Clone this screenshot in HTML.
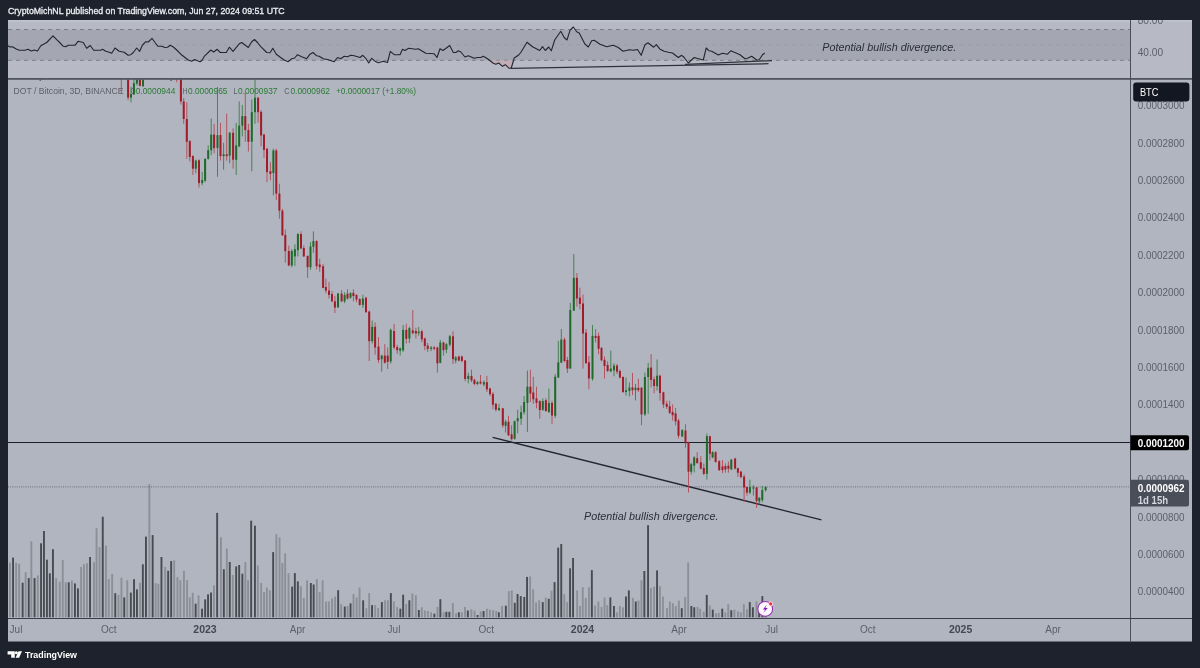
<!DOCTYPE html>
<html lang="en"><head><meta charset="utf-8"><title>DOT / Bitcoin chart</title>
<style>
html,body{margin:0;padding:0;}
body{width:1200px;height:668px;background:#1e222d;overflow:hidden;position:relative;}
.chart{position:absolute;left:0;top:0;display:block;font-family:"Liberation Sans",sans-serif;will-change:transform;}
</style></head><body>
<svg class="chart" width="1200" height="668" viewBox="0 0 1200 668">
<defs><clipPath id="main"><rect x="8" y="79.5" width="1122.5" height="538.1"/></clipPath><clipPath id="rsic"><rect x="8" y="20" width="1122.5" height="58"/></clipPath></defs>
<rect x="8" y="20" width="1184" height="621.5" fill="#b1b5bf"/>
<rect x="8" y="20" width="1184" height="58.5" fill="#b7bac4"/>
<rect x="8" y="20" width="1184" height="1.6" fill="#c0c3cc"/>
<rect x="8" y="29.5" width="1122.5" height="30.8" fill="#a4a7b1"/>
<line x1="8" y1="29.5" x2="1130.5" y2="29.5" stroke="#747781" stroke-width="0.9" stroke-dasharray="3.8 4.2"/>
<line x1="8" y1="60.3" x2="1130.5" y2="60.3" stroke="#747781" stroke-width="0.9" stroke-dasharray="3.8 4.2"/>
<line x1="8" y1="44.8" x2="1130.5" y2="44.8" stroke="#979aa4" stroke-width="0.7" stroke-dasharray="3.8 4.2"/>
<polygon points="487.5,60.3 493.3,63.3 495.8,64.2 498.7,63 502.5,66.3 505.3,64.7 509.2,68.3 511.3,68 513.5,60.3" fill="#c9a3ac" opacity="0.55"/>
<line x1="510.5" y1="68.4" x2="768.5" y2="63.7" stroke="#2f323b" stroke-width="1.3"/>
<line x1="685" y1="64.4" x2="772" y2="60.6" stroke="#2f323b" stroke-width="1.3"/>
<polyline clip-path="url(#rsic)" points="8,45.8 10,47 12.5,46.7 15.8,48.7 19.2,50.3 25,50.3 28,49.3 31.3,51 34.2,50 37.5,51 40.8,45.8 46.7,42.5 53,35.8 56.7,39.7 59.7,42.5 63.3,46.3 65.8,46.7 68.3,45.3 75,45.3 78,41.3 83.3,42.5 86.7,48.3 90.3,45.5 93.7,50.3 100.8,50.3 102.5,49.3 105.8,51.3 109.2,52.2 111.7,53.3 115,48 119.2,51.3 124.2,52.2 128,55.3 130.8,54.7 133.3,52.5 136.7,48 139.7,51.3 142.5,45 145.8,41.7 148.3,42 152,38.3 155,42.5 158,46.3 161.7,46.2 165,47.5 167.5,47.2 170.3,45.3 173.3,47 176.7,50 180.8,54.2 185,57.5 188.3,60 191.7,61.2 194.7,59.5 197.5,60.8 200,61.7 201.7,60.8 204.7,55.8 210.8,50 213.7,52 217.2,49.3 220.3,52.5 226.3,52.5 229.3,47.2 233,51.3 239.2,43.8 241.7,42.5 248.3,47.5 251.7,41.7 254.5,39.5 257.5,42.5 260.8,46.7 266.7,52.5 270,52.8 272.8,48.3 276.3,54.2 280,57 284.2,60 288.3,61.7 291.7,58.7 294.7,58 297.5,54.7 301.7,56.7 306.7,58.7 310,54.2 313,52.5 316.7,55.8 319.2,56.2 323.3,58.8 327.5,59.5 334.2,61.7 337.5,57.5 340.8,58.7 344.2,56.3 347.5,56.7 350.8,55.3 354.2,55.8 360,57.5 362.8,55.3 365.8,58.3 368.7,63 371.7,58.3 375,61.2 378.3,62.8 383.3,61.3 387.5,62.5 390.3,51.3 394.2,54.7 400,54.7 402.5,49.2 405,50.5 408.7,48.3 415.8,49.2 418.3,48.7 425.8,53.3 434.2,53.8 437,57.5 440,48.7 443,50.5 449.7,45.5 453.3,52.5 455.8,52.5 458.3,50.8 460.8,52 465,57 468.3,55.8 474.2,58.3 477.5,57.5 480.8,57.5 483.3,56.3 487.5,58.8 493.3,63.3 495.8,64.2 498.7,63 502.5,66.3 505.3,64.7 509.2,68.3 511.3,68 514.2,58 518.3,55.3 520.8,52.5 527,42.2 532.5,46.7 539.7,50.5 542.5,46.7 545.3,50.5 548.7,47 551.3,50.8 554.7,40 560.8,31.3 564.2,37.5 567,40 570,30.3 573.3,27 576.7,31.7 579.2,33 585,44.2 588.3,47 591.7,40.8 594.2,40.3 600,44.2 606.7,46.7 613.3,45.3 618.3,47.5 623,51.2 629.2,49.7 633.3,50.3 637.5,49.5 641.2,55.3 645,44.7 648,42.8 653.7,47.2 656.3,44.7 660,49.2 664.2,51.3 668.3,52.2 672.5,53 678.3,57.5 681.7,55.3 684.2,57.5 688.3,63 694.2,57.5 703.3,60 706.2,48 709.2,50.8 711.7,51.2 718.3,55 722.5,53.3 727.5,54.2 730.8,50.8 740,54.7 745,58.7 747.5,58.3 751.7,56.3 756.7,60 759.2,59.7 762.5,54.7 764.7,53" fill="none" stroke="#23262f" stroke-width="1.1" stroke-linejoin="round"/>
<text x="13.6" y="94" font-size="9.8" fill="#5d606b" textLength="109.9" lengthAdjust="spacingAndGlyphs" >DOT / Bitcoin, 3D, BINANCE</text>
<text x="130.7" y="94" font-size="9.8" fill="#5d606b" textLength="4.8" lengthAdjust="spacingAndGlyphs" >O</text>
<text x="135.7" y="94" font-size="9.8" fill="#2a7a35" textLength="39.6" lengthAdjust="spacingAndGlyphs" >0.0000944</text>
<text x="182.4" y="94" font-size="9.8" fill="#5d606b" textLength="5" lengthAdjust="spacingAndGlyphs" >H</text>
<text x="188" y="94" font-size="9.8" fill="#2a7a35" textLength="39.4" lengthAdjust="spacingAndGlyphs" >0.0000965</text>
<text x="233.6" y="94" font-size="9.8" fill="#5d606b" textLength="4" lengthAdjust="spacingAndGlyphs" >L</text>
<text x="238" y="94" font-size="9.8" fill="#2a7a35" textLength="39.4" lengthAdjust="spacingAndGlyphs" >0.0000937</text>
<text x="284.2" y="94" font-size="9.8" fill="#5d606b" textLength="5.4" lengthAdjust="spacingAndGlyphs" >C</text>
<text x="290.4" y="94" font-size="9.8" fill="#2a7a35" textLength="39.6" lengthAdjust="spacingAndGlyphs" >0.0000962</text>
<text x="336" y="94" font-size="9.8" fill="#2a7a35" textLength="80" lengthAdjust="spacingAndGlyphs" >+0.0000017 (+1.80%)</text>
<g clip-path="url(#main)">
<rect x="9" y="562.8" width="1.9" height="54.8" fill="#8c8f97"/>
<rect x="12.1" y="557.6" width="1.9" height="60" fill="#494b52"/>
<rect x="15.2" y="562.8" width="1.9" height="54.8" fill="#8c8f97"/>
<rect x="18.2" y="563.9" width="1.9" height="53.7" fill="#8c8f97"/>
<rect x="21.7" y="582.7" width="1.9" height="34.9" fill="#494b52"/>
<rect x="24.7" y="572.2" width="1.9" height="45.4" fill="#8c8f97"/>
<rect x="27.8" y="578.1" width="1.9" height="39.5" fill="#494b52"/>
<rect x="30.4" y="541.4" width="1.9" height="76.2" fill="#8c8f97"/>
<rect x="33.6" y="578.1" width="1.9" height="39.5" fill="#494b52"/>
<rect x="36.8" y="575.4" width="1.9" height="42.2" fill="#8c8f97"/>
<rect x="40.1" y="543.3" width="1.9" height="74.3" fill="#494b52"/>
<rect x="43" y="531" width="1.9" height="86.6" fill="#494b52"/>
<rect x="46" y="559.7" width="1.9" height="57.9" fill="#494b52"/>
<rect x="48.9" y="573.3" width="1.9" height="44.3" fill="#494b52"/>
<rect x="52" y="549.2" width="1.9" height="68.4" fill="#494b52"/>
<rect x="55.2" y="578.1" width="1.9" height="39.5" fill="#8c8f97"/>
<rect x="58.8" y="581.7" width="1.9" height="35.9" fill="#8c8f97"/>
<rect x="61.8" y="560" width="1.9" height="57.6" fill="#8c8f97"/>
<rect x="64.8" y="582.3" width="1.9" height="35.3" fill="#8c8f97"/>
<rect x="67.8" y="582.3" width="1.9" height="35.3" fill="#494b52"/>
<rect x="71" y="580.6" width="1.9" height="37" fill="#8c8f97"/>
<rect x="74" y="583.4" width="1.9" height="34.2" fill="#494b52"/>
<rect x="77" y="588.4" width="1.9" height="29.2" fill="#494b52"/>
<rect x="80.1" y="567" width="1.9" height="50.6" fill="#8c8f97"/>
<rect x="83" y="564.3" width="1.9" height="53.3" fill="#8c8f97"/>
<rect x="86" y="563.2" width="1.9" height="54.4" fill="#8c8f97"/>
<rect x="89.1" y="557" width="1.9" height="60.6" fill="#494b52"/>
<rect x="93.1" y="562.2" width="1.9" height="55.4" fill="#8c8f97"/>
<rect x="95.6" y="528.2" width="1.9" height="89.4" fill="#8c8f97"/>
<rect x="98.6" y="547" width="1.9" height="70.6" fill="#8c8f97"/>
<rect x="101.8" y="516.7" width="1.9" height="100.9" fill="#494b52"/>
<rect x="105" y="545.6" width="1.9" height="72" fill="#8c8f97"/>
<rect x="107.8" y="579" width="1.9" height="38.6" fill="#8c8f97"/>
<rect x="111.2" y="574" width="1.9" height="43.6" fill="#8c8f97"/>
<rect x="114.3" y="593.2" width="1.9" height="24.4" fill="#494b52"/>
<rect x="117.5" y="594.9" width="1.9" height="22.7" fill="#8c8f97"/>
<rect x="120.5" y="577.7" width="1.9" height="39.9" fill="#8c8f97"/>
<rect x="123.3" y="597.4" width="1.9" height="20.2" fill="#494b52"/>
<rect x="126.3" y="580.2" width="1.9" height="37.4" fill="#8c8f97"/>
<rect x="129.9" y="592.6" width="1.9" height="25" fill="#494b52"/>
<rect x="133.1" y="579.2" width="1.9" height="38.4" fill="#494b52"/>
<rect x="136" y="589.4" width="1.9" height="28.2" fill="#494b52"/>
<rect x="139.1" y="582.7" width="1.9" height="34.9" fill="#8c8f97"/>
<rect x="141.9" y="564.3" width="1.9" height="53.3" fill="#494b52"/>
<rect x="145" y="536.6" width="1.9" height="81" fill="#494b52"/>
<rect x="148.4" y="484.2" width="1.9" height="133.4" fill="#8c8f97"/>
<rect x="151.7" y="535.1" width="1.9" height="82.5" fill="#494b52"/>
<rect x="154.7" y="583.1" width="1.9" height="34.5" fill="#8c8f97"/>
<rect x="157.4" y="583.8" width="1.9" height="33.8" fill="#8c8f97"/>
<rect x="160.5" y="557" width="1.9" height="60.6" fill="#494b52"/>
<rect x="164.2" y="567" width="1.9" height="50.6" fill="#8c8f97"/>
<rect x="167.2" y="570.8" width="1.9" height="46.8" fill="#494b52"/>
<rect x="170.2" y="561.1" width="1.9" height="56.5" fill="#494b52"/>
<rect x="173.2" y="560.3" width="1.9" height="57.3" fill="#8c8f97"/>
<rect x="176.5" y="577.1" width="1.9" height="40.5" fill="#8c8f97"/>
<rect x="179.4" y="580.2" width="1.9" height="37.4" fill="#8c8f97"/>
<rect x="183" y="570.8" width="1.9" height="46.8" fill="#8c8f97"/>
<rect x="186.1" y="580.2" width="1.9" height="37.4" fill="#8c8f97"/>
<rect x="188.8" y="597.4" width="1.9" height="20.2" fill="#8c8f97"/>
<rect x="191.8" y="592.8" width="1.9" height="24.8" fill="#8c8f97"/>
<rect x="194.7" y="603.7" width="1.9" height="13.9" fill="#494b52"/>
<rect x="197.6" y="595.3" width="1.9" height="22.3" fill="#8c8f97"/>
<rect x="201.1" y="608.7" width="1.9" height="8.9" fill="#494b52"/>
<rect x="204.2" y="599.4" width="1.9" height="18.2" fill="#494b52"/>
<rect x="207.1" y="594.3" width="1.9" height="23.3" fill="#494b52"/>
<rect x="210.1" y="592.5" width="1.9" height="25.1" fill="#494b52"/>
<rect x="213" y="585.4" width="1.9" height="32.2" fill="#8c8f97"/>
<rect x="216.2" y="512.9" width="1.9" height="104.7" fill="#494b52"/>
<rect x="220" y="537.4" width="1.9" height="80.2" fill="#8c8f97"/>
<rect x="222.9" y="569.2" width="1.9" height="48.4" fill="#494b52"/>
<rect x="225.9" y="548.5" width="1.9" height="69.1" fill="#8c8f97"/>
<rect x="228.8" y="562" width="1.9" height="55.6" fill="#494b52"/>
<rect x="231.9" y="575.1" width="1.9" height="42.5" fill="#8c8f97"/>
<rect x="235.2" y="566.5" width="1.9" height="51.1" fill="#494b52"/>
<rect x="238.2" y="565" width="1.9" height="52.6" fill="#494b52"/>
<rect x="241.4" y="573.7" width="1.9" height="43.9" fill="#494b52"/>
<rect x="244.4" y="562" width="1.9" height="55.6" fill="#8c8f97"/>
<rect x="247.1" y="580.3" width="1.9" height="37.3" fill="#8c8f97"/>
<rect x="250.2" y="520.7" width="1.9" height="96.9" fill="#494b52"/>
<rect x="254" y="525.7" width="1.9" height="91.9" fill="#494b52"/>
<rect x="256.9" y="565.6" width="1.9" height="52" fill="#8c8f97"/>
<rect x="260.2" y="583" width="1.9" height="34.6" fill="#8c8f97"/>
<rect x="263.1" y="592" width="1.9" height="25.6" fill="#8c8f97"/>
<rect x="265.9" y="587.5" width="1.9" height="30.1" fill="#8c8f97"/>
<rect x="268.9" y="590.2" width="1.9" height="27.4" fill="#8c8f97"/>
<rect x="272.2" y="552.1" width="1.9" height="65.5" fill="#494b52"/>
<rect x="275.4" y="534.1" width="1.9" height="83.5" fill="#8c8f97"/>
<rect x="278.6" y="537.4" width="1.9" height="80.2" fill="#8c8f97"/>
<rect x="281.4" y="562.9" width="1.9" height="54.7" fill="#8c8f97"/>
<rect x="284.2" y="553.4" width="1.9" height="64.2" fill="#8c8f97"/>
<rect x="287.6" y="573.3" width="1.9" height="44.3" fill="#8c8f97"/>
<rect x="291.2" y="586.6" width="1.9" height="31" fill="#494b52"/>
<rect x="293.9" y="573.1" width="1.9" height="44.5" fill="#494b52"/>
<rect x="296.9" y="581.4" width="1.9" height="36.2" fill="#494b52"/>
<rect x="299.9" y="586.3" width="1.9" height="31.3" fill="#8c8f97"/>
<rect x="302.9" y="597.9" width="1.9" height="19.7" fill="#8c8f97"/>
<rect x="306.1" y="580.3" width="1.9" height="37.3" fill="#8c8f97"/>
<rect x="309.9" y="583" width="1.9" height="34.6" fill="#494b52"/>
<rect x="312.7" y="584.5" width="1.9" height="33.1" fill="#494b52"/>
<rect x="315.9" y="579.1" width="1.9" height="38.5" fill="#8c8f97"/>
<rect x="318.7" y="592" width="1.9" height="25.6" fill="#8c8f97"/>
<rect x="321.7" y="580.3" width="1.9" height="37.3" fill="#8c8f97"/>
<rect x="325.1" y="601.5" width="1.9" height="16.1" fill="#8c8f97"/>
<rect x="327.9" y="601.5" width="1.9" height="16.1" fill="#8c8f97"/>
<rect x="331.1" y="598.5" width="1.9" height="19.1" fill="#8c8f97"/>
<rect x="334.1" y="596.5" width="1.9" height="21.1" fill="#8c8f97"/>
<rect x="337.2" y="590.2" width="1.9" height="27.4" fill="#494b52"/>
<rect x="340.2" y="604.2" width="1.9" height="13.4" fill="#8c8f97"/>
<rect x="343.8" y="606.6" width="1.9" height="11" fill="#494b52"/>
<rect x="346.7" y="606" width="1.9" height="11.6" fill="#8c8f97"/>
<rect x="349.6" y="603.3" width="1.9" height="14.3" fill="#494b52"/>
<rect x="352.6" y="594" width="1.9" height="23.6" fill="#8c8f97"/>
<rect x="355.7" y="597.4" width="1.9" height="20.2" fill="#8c8f97"/>
<rect x="358.6" y="587.5" width="1.9" height="30.1" fill="#8c8f97"/>
<rect x="362.2" y="600.3" width="1.9" height="17.3" fill="#494b52"/>
<rect x="365.4" y="608.2" width="1.9" height="9.4" fill="#8c8f97"/>
<rect x="368.2" y="593.1" width="1.9" height="24.5" fill="#8c8f97"/>
<rect x="371.1" y="605.1" width="1.9" height="12.5" fill="#494b52"/>
<rect x="374.2" y="605.1" width="1.9" height="12.5" fill="#8c8f97"/>
<rect x="377.2" y="608.2" width="1.9" height="9.4" fill="#8c8f97"/>
<rect x="380.9" y="602.1" width="1.9" height="15.5" fill="#494b52"/>
<rect x="384.1" y="600.3" width="1.9" height="17.3" fill="#8c8f97"/>
<rect x="386.9" y="600.3" width="1.9" height="17.3" fill="#8c8f97"/>
<rect x="389.9" y="593.1" width="1.9" height="24.5" fill="#494b52"/>
<rect x="392.9" y="601.5" width="1.9" height="16.1" fill="#8c8f97"/>
<rect x="396.2" y="606.9" width="1.9" height="10.7" fill="#8c8f97"/>
<rect x="399.4" y="608.7" width="1.9" height="8.9" fill="#494b52"/>
<rect x="402.2" y="594.7" width="1.9" height="22.9" fill="#494b52"/>
<rect x="405.2" y="603.9" width="1.9" height="13.7" fill="#8c8f97"/>
<rect x="408.4" y="600.3" width="1.9" height="17.3" fill="#494b52"/>
<rect x="411.4" y="593.4" width="1.9" height="24.2" fill="#8c8f97"/>
<rect x="414.9" y="595.2" width="1.9" height="22.4" fill="#8c8f97"/>
<rect x="417.9" y="610" width="1.9" height="7.6" fill="#494b52"/>
<rect x="420.9" y="607.3" width="1.9" height="10.3" fill="#8c8f97"/>
<rect x="423.9" y="610.5" width="1.9" height="7.1" fill="#8c8f97"/>
<rect x="426.9" y="611" width="1.9" height="6.6" fill="#8c8f97"/>
<rect x="430.1" y="612.3" width="1.9" height="5.3" fill="#8c8f97"/>
<rect x="433.4" y="613.7" width="1.9" height="3.9" fill="#494b52"/>
<rect x="436.6" y="606.9" width="1.9" height="10.7" fill="#8c8f97"/>
<rect x="439.4" y="599.2" width="1.9" height="18.4" fill="#494b52"/>
<rect x="442.7" y="612.3" width="1.9" height="5.3" fill="#8c8f97"/>
<rect x="445.4" y="611.8" width="1.9" height="5.8" fill="#494b52"/>
<rect x="448.4" y="611.8" width="1.9" height="5.8" fill="#494b52"/>
<rect x="451.9" y="603" width="1.9" height="14.6" fill="#8c8f97"/>
<rect x="455.1" y="613.2" width="1.9" height="4.4" fill="#8c8f97"/>
<rect x="457.9" y="612.3" width="1.9" height="5.3" fill="#494b52"/>
<rect x="460.9" y="612.3" width="1.9" height="5.3" fill="#8c8f97"/>
<rect x="464.1" y="606.9" width="1.9" height="10.7" fill="#8c8f97"/>
<rect x="466.9" y="610.5" width="1.9" height="7.1" fill="#494b52"/>
<rect x="470.4" y="609.3" width="1.9" height="8.3" fill="#8c8f97"/>
<rect x="473.6" y="610.5" width="1.9" height="7.1" fill="#8c8f97"/>
<rect x="476.6" y="615" width="1.9" height="2.6" fill="#494b52"/>
<rect x="479.7" y="611.4" width="1.9" height="6.2" fill="#8c8f97"/>
<rect x="482.6" y="611" width="1.9" height="6.6" fill="#494b52"/>
<rect x="485.9" y="608.7" width="1.9" height="8.9" fill="#8c8f97"/>
<rect x="488.9" y="609.6" width="1.9" height="8" fill="#8c8f97"/>
<rect x="492.1" y="610.2" width="1.9" height="7.4" fill="#8c8f97"/>
<rect x="495.2" y="611" width="1.9" height="6.6" fill="#8c8f97"/>
<rect x="497.9" y="612.3" width="1.9" height="5.3" fill="#494b52"/>
<rect x="501.1" y="606" width="1.9" height="11.6" fill="#8c8f97"/>
<rect x="504.9" y="605.7" width="1.9" height="11.9" fill="#494b52"/>
<rect x="507.9" y="591.1" width="1.9" height="26.5" fill="#8c8f97"/>
<rect x="510.8" y="590.4" width="1.9" height="27.2" fill="#8c8f97"/>
<rect x="513.8" y="602.8" width="1.9" height="14.8" fill="#494b52"/>
<rect x="516.6" y="594" width="1.9" height="23.6" fill="#494b52"/>
<rect x="519.8" y="596.1" width="1.9" height="21.5" fill="#494b52"/>
<rect x="523.3" y="597" width="1.9" height="20.6" fill="#494b52"/>
<rect x="526.1" y="576.9" width="1.9" height="40.7" fill="#494b52"/>
<rect x="529.2" y="576.4" width="1.9" height="41.2" fill="#8c8f97"/>
<rect x="532.2" y="589.3" width="1.9" height="28.3" fill="#8c8f97"/>
<rect x="535.1" y="602.4" width="1.9" height="15.2" fill="#8c8f97"/>
<rect x="538.2" y="600.3" width="1.9" height="17.3" fill="#8c8f97"/>
<rect x="541.8" y="602.1" width="1.9" height="15.5" fill="#494b52"/>
<rect x="544.8" y="597.6" width="1.9" height="20" fill="#8c8f97"/>
<rect x="547.8" y="598.8" width="1.9" height="18.8" fill="#494b52"/>
<rect x="550.6" y="590.7" width="1.9" height="26.9" fill="#8c8f97"/>
<rect x="553.6" y="582.1" width="1.9" height="35.5" fill="#494b52"/>
<rect x="557.2" y="547.6" width="1.9" height="70" fill="#494b52"/>
<rect x="560.3" y="544" width="1.9" height="73.6" fill="#494b52"/>
<rect x="563.3" y="594.3" width="1.9" height="23.3" fill="#8c8f97"/>
<rect x="566.2" y="602.1" width="1.9" height="15.5" fill="#8c8f97"/>
<rect x="569.1" y="568.3" width="1.9" height="49.3" fill="#494b52"/>
<rect x="572.1" y="558" width="1.9" height="59.6" fill="#494b52"/>
<rect x="576.2" y="590.4" width="1.9" height="27.2" fill="#8c8f97"/>
<rect x="579" y="606" width="1.9" height="11.6" fill="#8c8f97"/>
<rect x="581.8" y="587.2" width="1.9" height="30.4" fill="#8c8f97"/>
<rect x="584.8" y="597.9" width="1.9" height="19.7" fill="#8c8f97"/>
<rect x="588" y="587.2" width="1.9" height="30.4" fill="#8c8f97"/>
<rect x="590.9" y="570.1" width="1.9" height="47.5" fill="#494b52"/>
<rect x="594.1" y="605.5" width="1.9" height="12.1" fill="#8c8f97"/>
<rect x="597.4" y="601.5" width="1.9" height="16.1" fill="#8c8f97"/>
<rect x="600.6" y="606.9" width="1.9" height="10.7" fill="#8c8f97"/>
<rect x="603.6" y="597.6" width="1.9" height="20" fill="#8c8f97"/>
<rect x="606.3" y="605.1" width="1.9" height="12.5" fill="#8c8f97"/>
<rect x="609.4" y="597.4" width="1.9" height="20.2" fill="#494b52"/>
<rect x="613" y="606" width="1.9" height="11.6" fill="#494b52"/>
<rect x="615.9" y="612.3" width="1.9" height="5.3" fill="#8c8f97"/>
<rect x="618.9" y="606" width="1.9" height="11.6" fill="#8c8f97"/>
<rect x="622" y="607.3" width="1.9" height="10.3" fill="#8c8f97"/>
<rect x="625" y="596.5" width="1.9" height="21.1" fill="#494b52"/>
<rect x="627.9" y="590.4" width="1.9" height="27.2" fill="#494b52"/>
<rect x="631.9" y="597.9" width="1.9" height="19.7" fill="#8c8f97"/>
<rect x="634.8" y="601.5" width="1.9" height="16.1" fill="#494b52"/>
<rect x="637.6" y="600.6" width="1.9" height="17" fill="#8c8f97"/>
<rect x="640.5" y="580.3" width="1.9" height="37.3" fill="#8c8f97"/>
<rect x="643.4" y="571" width="1.9" height="46.6" fill="#494b52"/>
<rect x="647.1" y="525.2" width="1.9" height="92.4" fill="#494b52"/>
<rect x="650" y="588" width="1.9" height="29.6" fill="#8c8f97"/>
<rect x="653.1" y="586.8" width="1.9" height="30.8" fill="#8c8f97"/>
<rect x="656.1" y="570.4" width="1.9" height="47.2" fill="#494b52"/>
<rect x="659" y="586.3" width="1.9" height="31.3" fill="#8c8f97"/>
<rect x="662" y="596.5" width="1.9" height="21.1" fill="#8c8f97"/>
<rect x="666" y="608.2" width="1.9" height="9.4" fill="#8c8f97"/>
<rect x="668.9" y="601.5" width="1.9" height="16.1" fill="#8c8f97"/>
<rect x="671.9" y="603.3" width="1.9" height="14.3" fill="#8c8f97"/>
<rect x="674.8" y="606" width="1.9" height="11.6" fill="#8c8f97"/>
<rect x="677.9" y="600.6" width="1.9" height="17" fill="#8c8f97"/>
<rect x="680.8" y="608.2" width="1.9" height="9.4" fill="#494b52"/>
<rect x="684.2" y="597" width="1.9" height="20.6" fill="#8c8f97"/>
<rect x="687.2" y="562.5" width="1.9" height="55.1" fill="#8c8f97"/>
<rect x="690.4" y="606" width="1.9" height="11.6" fill="#494b52"/>
<rect x="693.3" y="607.3" width="1.9" height="10.3" fill="#494b52"/>
<rect x="696.6" y="606.9" width="1.9" height="10.7" fill="#8c8f97"/>
<rect x="699.2" y="608.7" width="1.9" height="8.9" fill="#8c8f97"/>
<rect x="702.8" y="611.8" width="1.9" height="5.8" fill="#8c8f97"/>
<rect x="705.8" y="594.9" width="1.9" height="22.7" fill="#494b52"/>
<rect x="708.8" y="605.5" width="1.9" height="12.1" fill="#8c8f97"/>
<rect x="711.8" y="609.6" width="1.9" height="8" fill="#494b52"/>
<rect x="715.1" y="613.2" width="1.9" height="4.4" fill="#8c8f97"/>
<rect x="717.8" y="612.8" width="1.9" height="4.8" fill="#8c8f97"/>
<rect x="721.3" y="608.7" width="1.9" height="8.9" fill="#494b52"/>
<rect x="724.4" y="612.3" width="1.9" height="5.3" fill="#8c8f97"/>
<rect x="727.3" y="604.2" width="1.9" height="13.4" fill="#8c8f97"/>
<rect x="730.3" y="610.2" width="1.9" height="7.4" fill="#494b52"/>
<rect x="733.4" y="609.6" width="1.9" height="8" fill="#8c8f97"/>
<rect x="737" y="611.4" width="1.9" height="6.2" fill="#8c8f97"/>
<rect x="739.9" y="612.3" width="1.9" height="5.3" fill="#8c8f97"/>
<rect x="742.9" y="604.2" width="1.9" height="13.4" fill="#8c8f97"/>
<rect x="746" y="609.3" width="1.9" height="8.3" fill="#8c8f97"/>
<rect x="748.8" y="602.1" width="1.9" height="15.5" fill="#494b52"/>
<rect x="751.9" y="607.3" width="1.9" height="10.3" fill="#494b52"/>
<rect x="755.5" y="601.5" width="1.9" height="16.1" fill="#8c8f97"/>
<rect x="758.2" y="607" width="1.9" height="10.6" fill="#494b52"/>
<rect x="761.4" y="596.1" width="1.9" height="21.5" fill="#494b52"/>
<rect x="764.5" y="604" width="1.9" height="13.6" fill="#494b52"/>
</g>
<line x1="8" y1="442.5" x2="1130.5" y2="442.5" stroke="#1c1f27" stroke-width="1"/>
<line x1="8" y1="486.9" x2="1130.5" y2="486.9" stroke="#62656f" stroke-width="0.9" stroke-dasharray="1 1.2"/>
<line x1="492.6" y1="437.4" x2="821.4" y2="519.9" stroke="#23262f" stroke-width="1.3"/>
<g clip-path="url(#main)">
<line x1="121.3" y1="78.7" x2="121.3" y2="93.5" stroke="#b24a55" stroke-width="0.9"/>
<line x1="128.1" y1="78.7" x2="128.1" y2="100.2" stroke="#b24a55" stroke-width="0.9"/>
<rect x="127.1" y="78.7" width="2" height="18.9" fill="#a11b2a"/>
<line x1="131" y1="86.8" x2="131" y2="102.5" stroke="#3c7d46" stroke-width="0.9"/>
<rect x="130" y="94" width="2" height="3.6" fill="#1f6a2a"/>
<line x1="133.9" y1="78.7" x2="133.9" y2="94.9" stroke="#3c7d46" stroke-width="0.9"/>
<rect x="132.9" y="83.2" width="2" height="11.2" fill="#1f6a2a"/>
<line x1="136.9" y1="78.7" x2="136.9" y2="85.4" stroke="#3c7d46" stroke-width="0.9"/>
<rect x="135.9" y="78.7" width="2" height="4.9" fill="#1f6a2a"/>
<line x1="139.9" y1="78.7" x2="139.9" y2="86.3" stroke="#b24a55" stroke-width="0.9"/>
<rect x="138.9" y="78.7" width="2" height="7.2" fill="#a11b2a"/>
<line x1="143" y1="78.7" x2="143" y2="86.6" stroke="#3c7d46" stroke-width="0.9"/>
<rect x="142" y="78.7" width="2" height="7.6" fill="#1f6a2a"/>
<line x1="176.7" y1="78.7" x2="176.7" y2="82.3" stroke="#b24a55" stroke-width="0.9"/>
<line x1="180.9" y1="78" x2="180.9" y2="104.6" stroke="#b24a55" stroke-width="0.9"/>
<rect x="179.9" y="78" width="2" height="23.4" fill="#a11b2a"/>
<line x1="183.7" y1="98.1" x2="183.7" y2="123.8" stroke="#b24a55" stroke-width="0.9"/>
<rect x="182.7" y="101.4" width="2" height="17.6" fill="#a11b2a"/>
<line x1="186.8" y1="102.3" x2="186.8" y2="158.8" stroke="#b24a55" stroke-width="0.9"/>
<rect x="185.8" y="119" width="2" height="22.8" fill="#a11b2a"/>
<line x1="189.8" y1="140" x2="189.8" y2="161.5" stroke="#b24a55" stroke-width="0.9"/>
<rect x="188.8" y="141.2" width="2" height="15.8" fill="#a11b2a"/>
<line x1="192.9" y1="155.2" x2="192.9" y2="175" stroke="#b24a55" stroke-width="0.9"/>
<rect x="191.9" y="156.1" width="2" height="12.6" fill="#a11b2a"/>
<line x1="195.8" y1="159.7" x2="195.8" y2="173.2" stroke="#3c7d46" stroke-width="0.9"/>
<rect x="194.8" y="160.6" width="2" height="8.1" fill="#1f6a2a"/>
<line x1="199" y1="159.2" x2="199" y2="187.6" stroke="#b24a55" stroke-width="0.9"/>
<rect x="198" y="160.3" width="2" height="22.8" fill="#a11b2a"/>
<line x1="202.2" y1="171.8" x2="202.2" y2="185.2" stroke="#3c7d46" stroke-width="0.9"/>
<rect x="201.2" y="180" width="2" height="3.1" fill="#1f6a2a"/>
<line x1="205.1" y1="158.5" x2="205.1" y2="182.2" stroke="#3c7d46" stroke-width="0.9"/>
<rect x="204.1" y="158.8" width="2" height="21.9" fill="#1f6a2a"/>
<line x1="208.2" y1="145.4" x2="208.2" y2="159.7" stroke="#3c7d46" stroke-width="0.9"/>
<rect x="207.2" y="150.2" width="2" height="8.6" fill="#1f6a2a"/>
<line x1="211.2" y1="118.4" x2="211.2" y2="155.2" stroke="#3c7d46" stroke-width="0.9"/>
<rect x="210.2" y="134.6" width="2" height="15.6" fill="#1f6a2a"/>
<line x1="214.1" y1="123.8" x2="214.1" y2="153.4" stroke="#b24a55" stroke-width="0.9"/>
<rect x="213.1" y="134.6" width="2" height="13.5" fill="#a11b2a"/>
<line x1="217.5" y1="87" x2="217.5" y2="176.8" stroke="#3c7d46" stroke-width="0.9"/>
<rect x="216.5" y="135.1" width="2" height="12.9" fill="#1f6a2a"/>
<line x1="220.5" y1="122.9" x2="220.5" y2="160.6" stroke="#b24a55" stroke-width="0.9"/>
<rect x="219.5" y="135.1" width="2" height="21" fill="#a11b2a"/>
<line x1="223.6" y1="142.7" x2="223.6" y2="169.6" stroke="#3c7d46" stroke-width="0.9"/>
<rect x="222.6" y="154.3" width="2" height="1.8" fill="#1f6a2a"/>
<line x1="226.7" y1="113.6" x2="226.7" y2="160.6" stroke="#b24a55" stroke-width="0.9"/>
<rect x="225.7" y="154.3" width="2" height="1.8" fill="#a11b2a"/>
<line x1="229.7" y1="131.9" x2="229.7" y2="163.3" stroke="#3c7d46" stroke-width="0.9"/>
<rect x="228.7" y="132.8" width="2" height="22.8" fill="#1f6a2a"/>
<line x1="233.1" y1="128.3" x2="233.1" y2="168.7" stroke="#b24a55" stroke-width="0.9"/>
<rect x="232.1" y="132.8" width="2" height="26.9" fill="#a11b2a"/>
<line x1="236.2" y1="122.9" x2="236.2" y2="175" stroke="#3c7d46" stroke-width="0.9"/>
<rect x="235.2" y="145.4" width="2" height="14.4" fill="#1f6a2a"/>
<line x1="239.2" y1="101.4" x2="239.2" y2="147.2" stroke="#3c7d46" stroke-width="0.9"/>
<rect x="238.2" y="125.6" width="2" height="20.7" fill="#1f6a2a"/>
<line x1="242.3" y1="104.9" x2="242.3" y2="136.4" stroke="#3c7d46" stroke-width="0.9"/>
<rect x="241.3" y="116.1" width="2" height="9.5" fill="#1f6a2a"/>
<line x1="245.3" y1="92.4" x2="245.3" y2="141.8" stroke="#b24a55" stroke-width="0.9"/>
<rect x="244.3" y="116.1" width="2" height="14" fill="#a11b2a"/>
<line x1="248.4" y1="123.8" x2="248.4" y2="151.6" stroke="#b24a55" stroke-width="0.9"/>
<rect x="247.4" y="130.1" width="2" height="11.7" fill="#a11b2a"/>
<line x1="251.8" y1="99.6" x2="251.8" y2="171.4" stroke="#3c7d46" stroke-width="0.9"/>
<rect x="250.8" y="112.1" width="2" height="29.6" fill="#1f6a2a"/>
<line x1="255" y1="78" x2="255" y2="123.8" stroke="#3c7d46" stroke-width="0.9"/>
<rect x="254" y="97.8" width="2" height="14.4" fill="#1f6a2a"/>
<line x1="258.1" y1="96.9" x2="258.1" y2="122.9" stroke="#b24a55" stroke-width="0.9"/>
<rect x="257.1" y="97.8" width="2" height="14.4" fill="#a11b2a"/>
<line x1="261.1" y1="110.3" x2="261.1" y2="146.3" stroke="#b24a55" stroke-width="0.9"/>
<rect x="260.1" y="111.8" width="2" height="23.7" fill="#a11b2a"/>
<line x1="264" y1="133.7" x2="264" y2="157.9" stroke="#b24a55" stroke-width="0.9"/>
<rect x="263" y="134.6" width="2" height="15.3" fill="#a11b2a"/>
<line x1="267" y1="147.8" x2="267" y2="182" stroke="#b24a55" stroke-width="0.9"/>
<rect x="266" y="148.7" width="2" height="23.4" fill="#a11b2a"/>
<line x1="270.4" y1="162.2" x2="270.4" y2="180.2" stroke="#b24a55" stroke-width="0.9"/>
<rect x="269.4" y="171.2" width="2" height="2.7" fill="#a11b2a"/>
<line x1="273.4" y1="148.7" x2="273.4" y2="195.4" stroke="#3c7d46" stroke-width="0.9"/>
<rect x="272.4" y="150.5" width="2" height="22.5" fill="#1f6a2a"/>
<line x1="276.3" y1="148.7" x2="276.3" y2="199.9" stroke="#b24a55" stroke-width="0.9"/>
<rect x="275.3" y="150.5" width="2" height="43.1" fill="#a11b2a"/>
<line x1="279.4" y1="183.8" x2="279.4" y2="218.8" stroke="#b24a55" stroke-width="0.9"/>
<rect x="278.4" y="193.6" width="2" height="17.1" fill="#a11b2a"/>
<line x1="282.4" y1="208.9" x2="282.4" y2="235.9" stroke="#b24a55" stroke-width="0.9"/>
<rect x="281.4" y="210.7" width="2" height="24.6" fill="#a11b2a"/>
<line x1="285.3" y1="229.5" x2="285.3" y2="262.7" stroke="#b24a55" stroke-width="0.9"/>
<rect x="284.3" y="234.9" width="2" height="16.2" fill="#a11b2a"/>
<line x1="288.8" y1="245.6" x2="288.8" y2="266.3" stroke="#b24a55" stroke-width="0.9"/>
<rect x="287.8" y="251" width="2" height="14.4" fill="#a11b2a"/>
<line x1="291.8" y1="249.2" x2="291.8" y2="267.2" stroke="#3c7d46" stroke-width="0.9"/>
<rect x="290.8" y="251" width="2" height="14.4" fill="#1f6a2a"/>
<line x1="294.9" y1="244.4" x2="294.9" y2="265.9" stroke="#3c7d46" stroke-width="0.9"/>
<rect x="293.9" y="249.2" width="2" height="7.2" fill="#1f6a2a"/>
<line x1="297.9" y1="233.1" x2="297.9" y2="256.4" stroke="#3c7d46" stroke-width="0.9"/>
<rect x="296.9" y="234" width="2" height="16.2" fill="#1f6a2a"/>
<line x1="301" y1="231.3" x2="301" y2="249.2" stroke="#b24a55" stroke-width="0.9"/>
<rect x="300" y="234" width="2" height="14.4" fill="#a11b2a"/>
<line x1="303.8" y1="245.6" x2="303.8" y2="257" stroke="#b24a55" stroke-width="0.9"/>
<rect x="302.8" y="248" width="2" height="8.4" fill="#a11b2a"/>
<line x1="307.6" y1="255.5" x2="307.6" y2="278" stroke="#b24a55" stroke-width="0.9"/>
<rect x="306.6" y="255.9" width="2" height="11.3" fill="#a11b2a"/>
<line x1="310.5" y1="242" x2="310.5" y2="269.9" stroke="#3c7d46" stroke-width="0.9"/>
<rect x="309.5" y="246.5" width="2" height="20.7" fill="#1f6a2a"/>
<line x1="313.4" y1="231.3" x2="313.4" y2="252.8" stroke="#3c7d46" stroke-width="0.9"/>
<rect x="312.4" y="241.1" width="2" height="5.7" fill="#1f6a2a"/>
<line x1="316.6" y1="240.3" x2="316.6" y2="269.5" stroke="#b24a55" stroke-width="0.9"/>
<rect x="315.6" y="241.1" width="2" height="25.1" fill="#a11b2a"/>
<line x1="319.7" y1="258.8" x2="319.7" y2="271.7" stroke="#b24a55" stroke-width="0.9"/>
<rect x="318.7" y="264.5" width="2" height="2.7" fill="#a11b2a"/>
<line x1="323.1" y1="264.1" x2="323.1" y2="288.2" stroke="#b24a55" stroke-width="0.9"/>
<rect x="322.1" y="266.3" width="2" height="21.6" fill="#a11b2a"/>
<line x1="325.9" y1="278.5" x2="325.9" y2="293.2" stroke="#b24a55" stroke-width="0.9"/>
<rect x="324.9" y="287" width="2" height="3.6" fill="#a11b2a"/>
<line x1="329" y1="282.1" x2="329" y2="298.6" stroke="#b24a55" stroke-width="0.9"/>
<rect x="328" y="290.5" width="2" height="4.5" fill="#a11b2a"/>
<line x1="332" y1="291.1" x2="332" y2="302.2" stroke="#b24a55" stroke-width="0.9"/>
<rect x="331" y="294.1" width="2" height="7.2" fill="#a11b2a"/>
<line x1="334.9" y1="295.9" x2="334.9" y2="313" stroke="#b24a55" stroke-width="0.9"/>
<rect x="333.9" y="301.3" width="2" height="6.3" fill="#a11b2a"/>
<line x1="338" y1="292.9" x2="338" y2="308" stroke="#3c7d46" stroke-width="0.9"/>
<rect x="337" y="293.6" width="2" height="13.7" fill="#1f6a2a"/>
<line x1="341.6" y1="290" x2="341.6" y2="302.2" stroke="#b24a55" stroke-width="0.9"/>
<rect x="340.6" y="293.6" width="2" height="7.7" fill="#a11b2a"/>
<line x1="344.6" y1="292.3" x2="344.6" y2="303.1" stroke="#3c7d46" stroke-width="0.9"/>
<rect x="343.6" y="295" width="2" height="6.3" fill="#1f6a2a"/>
<line x1="347.5" y1="289.3" x2="347.5" y2="299.5" stroke="#b24a55" stroke-width="0.9"/>
<rect x="346.5" y="293.6" width="2" height="5" fill="#a11b2a"/>
<line x1="350.5" y1="292.3" x2="350.5" y2="298.6" stroke="#3c7d46" stroke-width="0.9"/>
<rect x="349.5" y="293.2" width="2" height="4.5" fill="#1f6a2a"/>
<line x1="353.4" y1="289.3" x2="353.4" y2="301.3" stroke="#b24a55" stroke-width="0.9"/>
<rect x="352.4" y="292.9" width="2" height="3.1" fill="#a11b2a"/>
<line x1="356.5" y1="294.1" x2="356.5" y2="302.2" stroke="#b24a55" stroke-width="0.9"/>
<rect x="355.5" y="295" width="2" height="4.5" fill="#a11b2a"/>
<line x1="359.7" y1="298.3" x2="359.7" y2="305.8" stroke="#b24a55" stroke-width="0.9"/>
<rect x="358.7" y="299" width="2" height="5.9" fill="#a11b2a"/>
<line x1="362.9" y1="294.7" x2="362.9" y2="308" stroke="#3c7d46" stroke-width="0.9"/>
<rect x="361.9" y="298.6" width="2" height="6.3" fill="#1f6a2a"/>
<line x1="366" y1="296.8" x2="366" y2="313" stroke="#b24a55" stroke-width="0.9"/>
<rect x="365" y="297.7" width="2" height="14.4" fill="#a11b2a"/>
<line x1="369.2" y1="310.7" x2="369.2" y2="361" stroke="#b24a55" stroke-width="0.9"/>
<rect x="368.2" y="311.6" width="2" height="29.6" fill="#a11b2a"/>
<line x1="372.2" y1="320.5" x2="372.2" y2="343.5" stroke="#3c7d46" stroke-width="0.9"/>
<rect x="371.2" y="326.8" width="2" height="14.4" fill="#1f6a2a"/>
<line x1="375.1" y1="322.3" x2="375.1" y2="354.7" stroke="#b24a55" stroke-width="0.9"/>
<rect x="374.1" y="326.8" width="2" height="20.7" fill="#a11b2a"/>
<line x1="378.5" y1="337.1" x2="378.5" y2="362.8" stroke="#b24a55" stroke-width="0.9"/>
<rect x="377.5" y="346.6" width="2" height="13.5" fill="#a11b2a"/>
<line x1="381.7" y1="354.7" x2="381.7" y2="371.7" stroke="#3c7d46" stroke-width="0.9"/>
<rect x="380.7" y="355.6" width="2" height="3.6" fill="#1f6a2a"/>
<line x1="384.8" y1="344.2" x2="384.8" y2="363.6" stroke="#b24a55" stroke-width="0.9"/>
<rect x="383.8" y="355.6" width="2" height="7.2" fill="#a11b2a"/>
<line x1="387.7" y1="347.5" x2="387.7" y2="369" stroke="#b24a55" stroke-width="0.9"/>
<rect x="386.7" y="355.6" width="2" height="6.3" fill="#a11b2a"/>
<line x1="390.7" y1="328.6" x2="390.7" y2="363.6" stroke="#3c7d46" stroke-width="0.9"/>
<rect x="389.7" y="329.9" width="2" height="31.6" fill="#1f6a2a"/>
<line x1="394.1" y1="323.8" x2="394.1" y2="349.3" stroke="#b24a55" stroke-width="0.9"/>
<rect x="393.1" y="331" width="2" height="16.5" fill="#a11b2a"/>
<line x1="397.2" y1="344.8" x2="397.2" y2="353.8" stroke="#b24a55" stroke-width="0.9"/>
<rect x="396.2" y="347.1" width="2" height="3.1" fill="#a11b2a"/>
<line x1="400.2" y1="347.5" x2="400.2" y2="355.6" stroke="#3c7d46" stroke-width="0.9"/>
<rect x="399.2" y="348.4" width="2" height="2.3" fill="#1f6a2a"/>
<line x1="403.1" y1="325" x2="403.1" y2="352" stroke="#3c7d46" stroke-width="0.9"/>
<rect x="402.1" y="329.9" width="2" height="20.3" fill="#1f6a2a"/>
<line x1="406.3" y1="323.8" x2="406.3" y2="343.5" stroke="#b24a55" stroke-width="0.9"/>
<rect x="405.3" y="329.9" width="2" height="9" fill="#a11b2a"/>
<line x1="409.4" y1="326.8" x2="409.4" y2="343" stroke="#3c7d46" stroke-width="0.9"/>
<rect x="408.4" y="328.1" width="2" height="10.4" fill="#1f6a2a"/>
<line x1="412.8" y1="310.1" x2="412.8" y2="334.5" stroke="#b24a55" stroke-width="0.9"/>
<rect x="411.8" y="330.4" width="2" height="2.7" fill="#a11b2a"/>
<line x1="415.9" y1="327.7" x2="415.9" y2="338.5" stroke="#b24a55" stroke-width="0.9"/>
<rect x="414.9" y="331" width="2" height="2.5" fill="#a11b2a"/>
<line x1="418.7" y1="326.8" x2="418.7" y2="335.8" stroke="#3c7d46" stroke-width="0.9"/>
<rect x="417.7" y="331.7" width="2" height="1.4" fill="#1f6a2a"/>
<line x1="421.8" y1="329.9" x2="421.8" y2="342.1" stroke="#b24a55" stroke-width="0.9"/>
<rect x="420.8" y="331.3" width="2" height="8.1" fill="#a11b2a"/>
<line x1="424.8" y1="337.6" x2="424.8" y2="350.2" stroke="#b24a55" stroke-width="0.9"/>
<rect x="423.8" y="338.5" width="2" height="7.5" fill="#a11b2a"/>
<line x1="427.7" y1="343" x2="427.7" y2="352" stroke="#b24a55" stroke-width="0.9"/>
<rect x="426.7" y="345.7" width="2" height="3.2" fill="#a11b2a"/>
<line x1="431.1" y1="346" x2="431.1" y2="351.1" stroke="#3c7d46" stroke-width="0.9"/>
<rect x="430.1" y="347.5" width="2" height="1.4" fill="#1f6a2a"/>
<line x1="434.2" y1="346" x2="434.2" y2="350.2" stroke="#b24a55" stroke-width="0.9"/>
<rect x="433.2" y="347.5" width="2" height="1.4" fill="#a11b2a"/>
<line x1="437.4" y1="346.6" x2="437.4" y2="372.6" stroke="#b24a55" stroke-width="0.9"/>
<rect x="436.4" y="347.5" width="2" height="15.8" fill="#a11b2a"/>
<line x1="440.3" y1="339.9" x2="440.3" y2="363.3" stroke="#3c7d46" stroke-width="0.9"/>
<rect x="439.3" y="342.5" width="2" height="20.3" fill="#1f6a2a"/>
<line x1="443.5" y1="341.7" x2="443.5" y2="355.6" stroke="#b24a55" stroke-width="0.9"/>
<rect x="442.5" y="342.5" width="2" height="7.7" fill="#a11b2a"/>
<line x1="446.4" y1="343" x2="446.4" y2="353.2" stroke="#3c7d46" stroke-width="0.9"/>
<rect x="445.4" y="344.2" width="2" height="5.4" fill="#1f6a2a"/>
<line x1="449.8" y1="334.9" x2="449.8" y2="346.6" stroke="#3c7d46" stroke-width="0.9"/>
<rect x="448.8" y="336.3" width="2" height="8.4" fill="#1f6a2a"/>
<line x1="453" y1="331.3" x2="453" y2="364" stroke="#b24a55" stroke-width="0.9"/>
<rect x="452" y="336.3" width="2" height="22.8" fill="#a11b2a"/>
<line x1="455.7" y1="356.1" x2="455.7" y2="363.3" stroke="#3c7d46" stroke-width="0.9"/>
<rect x="454.7" y="357.4" width="2" height="3.1" fill="#1f6a2a"/>
<line x1="458.8" y1="355.6" x2="458.8" y2="361.5" stroke="#b24a55" stroke-width="0.9"/>
<rect x="457.8" y="356.5" width="2" height="4" fill="#a11b2a"/>
<line x1="461.9" y1="355.6" x2="461.9" y2="362.2" stroke="#b24a55" stroke-width="0.9"/>
<rect x="460.9" y="356.5" width="2" height="4.5" fill="#a11b2a"/>
<line x1="465.1" y1="360.1" x2="465.1" y2="381.3" stroke="#b24a55" stroke-width="0.9"/>
<rect x="464.1" y="360.4" width="2" height="18.5" fill="#a11b2a"/>
<line x1="468.3" y1="372.6" x2="468.3" y2="383.4" stroke="#3c7d46" stroke-width="0.9"/>
<rect x="467.3" y="375.9" width="2" height="3.1" fill="#1f6a2a"/>
<line x1="471.5" y1="369.6" x2="471.5" y2="382.2" stroke="#b24a55" stroke-width="0.9"/>
<rect x="470.5" y="375.9" width="2" height="4.5" fill="#a11b2a"/>
<line x1="474.4" y1="378.6" x2="474.4" y2="385.3" stroke="#b24a55" stroke-width="0.9"/>
<rect x="473.4" y="379.9" width="2" height="4.1" fill="#a11b2a"/>
<line x1="477.4" y1="381" x2="477.4" y2="385.3" stroke="#3c7d46" stroke-width="0.9"/>
<rect x="476.4" y="382.2" width="2" height="1.8" fill="#1f6a2a"/>
<line x1="480.5" y1="375" x2="480.5" y2="384.5" stroke="#b24a55" stroke-width="0.9"/>
<rect x="479.5" y="381.7" width="2" height="1.8" fill="#a11b2a"/>
<line x1="483.9" y1="380.4" x2="483.9" y2="386.3" stroke="#3c7d46" stroke-width="0.9"/>
<rect x="482.9" y="382.2" width="2" height="2.3" fill="#1f6a2a"/>
<line x1="486.9" y1="375.9" x2="486.9" y2="392.1" stroke="#b24a55" stroke-width="0.9"/>
<rect x="485.9" y="382.2" width="2" height="7.2" fill="#a11b2a"/>
<line x1="490" y1="387.6" x2="490" y2="396" stroke="#b24a55" stroke-width="0.9"/>
<rect x="489" y="388.5" width="2" height="5.7" fill="#a11b2a"/>
<line x1="492.9" y1="392.1" x2="492.9" y2="409.2" stroke="#b24a55" stroke-width="0.9"/>
<rect x="491.9" y="393.9" width="2" height="10.8" fill="#a11b2a"/>
<line x1="495.9" y1="402.9" x2="495.9" y2="411.5" stroke="#b24a55" stroke-width="0.9"/>
<rect x="494.9" y="403.8" width="2" height="5.9" fill="#a11b2a"/>
<line x1="499" y1="403.8" x2="499" y2="411" stroke="#3c7d46" stroke-width="0.9"/>
<rect x="498" y="407.9" width="2" height="2.2" fill="#1f6a2a"/>
<line x1="502.8" y1="407.9" x2="502.8" y2="427.7" stroke="#b24a55" stroke-width="0.9"/>
<rect x="501.8" y="408.3" width="2" height="17.1" fill="#a11b2a"/>
<line x1="505.6" y1="419.9" x2="505.6" y2="432.5" stroke="#3c7d46" stroke-width="0.9"/>
<rect x="504.6" y="421.7" width="2" height="4.1" fill="#1f6a2a"/>
<line x1="508.5" y1="415.8" x2="508.5" y2="436.1" stroke="#b24a55" stroke-width="0.9"/>
<rect x="507.5" y="421.7" width="2" height="13.5" fill="#a11b2a"/>
<line x1="511.6" y1="425.3" x2="511.6" y2="440.6" stroke="#b24a55" stroke-width="0.9"/>
<rect x="510.6" y="434.3" width="2" height="4.9" fill="#a11b2a"/>
<line x1="514.6" y1="420.5" x2="514.6" y2="439.7" stroke="#3c7d46" stroke-width="0.9"/>
<rect x="513.6" y="421.2" width="2" height="17.6" fill="#1f6a2a"/>
<line x1="517.7" y1="409.7" x2="517.7" y2="433.4" stroke="#3c7d46" stroke-width="0.9"/>
<rect x="516.7" y="418.1" width="2" height="3.1" fill="#1f6a2a"/>
<line x1="521.1" y1="405.6" x2="521.1" y2="424.8" stroke="#3c7d46" stroke-width="0.9"/>
<rect x="520.1" y="412.2" width="2" height="6.5" fill="#1f6a2a"/>
<line x1="524.1" y1="396" x2="524.1" y2="414.5" stroke="#3c7d46" stroke-width="0.9"/>
<rect x="523.1" y="402" width="2" height="10.2" fill="#1f6a2a"/>
<line x1="527.4" y1="370.5" x2="527.4" y2="432" stroke="#3c7d46" stroke-width="0.9"/>
<rect x="526.4" y="386.7" width="2" height="16.2" fill="#1f6a2a"/>
<line x1="530.4" y1="369.6" x2="530.4" y2="402" stroke="#b24a55" stroke-width="0.9"/>
<rect x="529.4" y="386.7" width="2" height="6.8" fill="#a11b2a"/>
<line x1="533.3" y1="376.8" x2="533.3" y2="403.8" stroke="#b24a55" stroke-width="0.9"/>
<rect x="532.3" y="392.5" width="2" height="6.8" fill="#a11b2a"/>
<line x1="536.5" y1="386.7" x2="536.5" y2="408.3" stroke="#b24a55" stroke-width="0.9"/>
<rect x="535.5" y="398.4" width="2" height="4.5" fill="#a11b2a"/>
<line x1="539.8" y1="400.2" x2="539.8" y2="418.7" stroke="#b24a55" stroke-width="0.9"/>
<rect x="538.8" y="401.1" width="2" height="9" fill="#a11b2a"/>
<line x1="542.8" y1="398.4" x2="542.8" y2="411" stroke="#3c7d46" stroke-width="0.9"/>
<rect x="541.8" y="401.1" width="2" height="8.6" fill="#1f6a2a"/>
<line x1="545.9" y1="398.4" x2="545.9" y2="411.9" stroke="#b24a55" stroke-width="0.9"/>
<rect x="544.9" y="400.2" width="2" height="10.8" fill="#a11b2a"/>
<line x1="548.9" y1="388.5" x2="548.9" y2="412.8" stroke="#3c7d46" stroke-width="0.9"/>
<rect x="547.9" y="402.9" width="2" height="9.3" fill="#1f6a2a"/>
<line x1="552" y1="400.7" x2="552" y2="424.1" stroke="#b24a55" stroke-width="0.9"/>
<rect x="551" y="402.9" width="2" height="12.6" fill="#a11b2a"/>
<line x1="555.2" y1="374.1" x2="555.2" y2="418.1" stroke="#3c7d46" stroke-width="0.9"/>
<rect x="554.2" y="376.8" width="2" height="39" fill="#1f6a2a"/>
<line x1="558.3" y1="340.8" x2="558.3" y2="377.6" stroke="#3c7d46" stroke-width="0.9"/>
<rect x="557.3" y="362.3" width="2" height="15.3" fill="#1f6a2a"/>
<line x1="561.3" y1="329" x2="561.3" y2="362.7" stroke="#3c7d46" stroke-width="0.9"/>
<rect x="560.3" y="339.5" width="2" height="23.2" fill="#1f6a2a"/>
<line x1="564.5" y1="337.7" x2="564.5" y2="362.3" stroke="#b24a55" stroke-width="0.9"/>
<rect x="563.5" y="339.5" width="2" height="21.5" fill="#a11b2a"/>
<line x1="567.4" y1="357" x2="567.4" y2="373" stroke="#b24a55" stroke-width="0.9"/>
<rect x="566.4" y="360" width="2" height="8.6" fill="#a11b2a"/>
<line x1="570.3" y1="303" x2="570.3" y2="368.6" stroke="#3c7d46" stroke-width="0.9"/>
<rect x="569.3" y="310" width="2" height="58.6" fill="#1f6a2a"/>
<line x1="573.8" y1="254" x2="573.8" y2="310.7" stroke="#3c7d46" stroke-width="0.9"/>
<rect x="572.8" y="277.8" width="2" height="32.9" fill="#1f6a2a"/>
<line x1="576.9" y1="273" x2="576.9" y2="306.6" stroke="#b24a55" stroke-width="0.9"/>
<rect x="575.9" y="277.8" width="2" height="20.7" fill="#a11b2a"/>
<line x1="579.9" y1="287.7" x2="579.9" y2="309.3" stroke="#b24a55" stroke-width="0.9"/>
<rect x="578.9" y="297.6" width="2" height="6.3" fill="#a11b2a"/>
<line x1="583" y1="294.5" x2="583" y2="368.6" stroke="#b24a55" stroke-width="0.9"/>
<rect x="582" y="303.5" width="2" height="30" fill="#a11b2a"/>
<line x1="586" y1="329" x2="586" y2="363.8" stroke="#b24a55" stroke-width="0.9"/>
<rect x="585" y="332.6" width="2" height="30.6" fill="#a11b2a"/>
<line x1="588.9" y1="356" x2="588.9" y2="389.3" stroke="#b24a55" stroke-width="0.9"/>
<rect x="587.9" y="362.3" width="2" height="16.2" fill="#a11b2a"/>
<line x1="592.5" y1="325" x2="592.5" y2="380.7" stroke="#3c7d46" stroke-width="0.9"/>
<rect x="591.5" y="335.9" width="2" height="43" fill="#1f6a2a"/>
<line x1="595.6" y1="329" x2="595.6" y2="342.5" stroke="#b24a55" stroke-width="0.9"/>
<rect x="594.6" y="335.9" width="2" height="2.1" fill="#a11b2a"/>
<line x1="598.6" y1="332.6" x2="598.6" y2="354.2" stroke="#b24a55" stroke-width="0.9"/>
<rect x="597.6" y="335.9" width="2" height="12.9" fill="#a11b2a"/>
<line x1="601.5" y1="347" x2="601.5" y2="361.4" stroke="#b24a55" stroke-width="0.9"/>
<rect x="600.5" y="347.9" width="2" height="12.4" fill="#a11b2a"/>
<line x1="604.5" y1="356.4" x2="604.5" y2="378.5" stroke="#b24a55" stroke-width="0.9"/>
<rect x="603.5" y="359.8" width="2" height="6.2" fill="#a11b2a"/>
<line x1="607.6" y1="361.4" x2="607.6" y2="372.2" stroke="#b24a55" stroke-width="0.9"/>
<rect x="606.6" y="365" width="2" height="6" fill="#a11b2a"/>
<line x1="610.8" y1="350.6" x2="610.8" y2="372.2" stroke="#3c7d46" stroke-width="0.9"/>
<rect x="609.8" y="368.6" width="2" height="2.7" fill="#1f6a2a"/>
<line x1="614" y1="363.2" x2="614" y2="376.3" stroke="#3c7d46" stroke-width="0.9"/>
<rect x="613" y="365.6" width="2" height="4.8" fill="#1f6a2a"/>
<line x1="617" y1="364" x2="617" y2="374" stroke="#b24a55" stroke-width="0.9"/>
<rect x="616" y="365.6" width="2" height="6.1" fill="#a11b2a"/>
<line x1="619.9" y1="369.5" x2="619.9" y2="378.5" stroke="#b24a55" stroke-width="0.9"/>
<rect x="618.9" y="371" width="2" height="6.6" fill="#a11b2a"/>
<line x1="623" y1="376.3" x2="623" y2="392.9" stroke="#b24a55" stroke-width="0.9"/>
<rect x="622" y="377" width="2" height="15" fill="#a11b2a"/>
<line x1="626" y1="377.6" x2="626" y2="395.6" stroke="#3c7d46" stroke-width="0.9"/>
<rect x="625" y="390.2" width="2" height="1.8" fill="#1f6a2a"/>
<line x1="629.4" y1="382.5" x2="629.4" y2="396.5" stroke="#3c7d46" stroke-width="0.9"/>
<rect x="628.4" y="387.5" width="2" height="3.5" fill="#1f6a2a"/>
<line x1="632.5" y1="373" x2="632.5" y2="395" stroke="#b24a55" stroke-width="0.9"/>
<rect x="631.5" y="387.5" width="2" height="2.7" fill="#a11b2a"/>
<line x1="635.5" y1="383.9" x2="635.5" y2="400.4" stroke="#3c7d46" stroke-width="0.9"/>
<rect x="634.5" y="387.8" width="2" height="2.4" fill="#1f6a2a"/>
<line x1="638.4" y1="378.9" x2="638.4" y2="392" stroke="#b24a55" stroke-width="0.9"/>
<rect x="637.4" y="387.8" width="2" height="2.4" fill="#a11b2a"/>
<line x1="641.5" y1="387" x2="641.5" y2="425.2" stroke="#b24a55" stroke-width="0.9"/>
<rect x="640.5" y="387.8" width="2" height="26.6" fill="#a11b2a"/>
<line x1="644.9" y1="372.7" x2="644.9" y2="415.9" stroke="#3c7d46" stroke-width="0.9"/>
<rect x="643.9" y="377" width="2" height="37.4" fill="#1f6a2a"/>
<line x1="648.2" y1="362.8" x2="648.2" y2="413.8" stroke="#3c7d46" stroke-width="0.9"/>
<rect x="647.2" y="367.8" width="2" height="9.2" fill="#1f6a2a"/>
<line x1="651.1" y1="354.1" x2="651.1" y2="387.4" stroke="#b24a55" stroke-width="0.9"/>
<rect x="650.1" y="367.6" width="2" height="12.4" fill="#a11b2a"/>
<line x1="654.1" y1="376.6" x2="654.1" y2="393.4" stroke="#b24a55" stroke-width="0.9"/>
<rect x="653.1" y="379.3" width="2" height="6.7" fill="#a11b2a"/>
<line x1="657.1" y1="359.5" x2="657.1" y2="390.6" stroke="#3c7d46" stroke-width="0.9"/>
<rect x="656.1" y="375.7" width="2" height="10.5" fill="#1f6a2a"/>
<line x1="660" y1="374.7" x2="660" y2="400.6" stroke="#b24a55" stroke-width="0.9"/>
<rect x="659" y="375.7" width="2" height="17.3" fill="#a11b2a"/>
<line x1="663.4" y1="391.8" x2="663.4" y2="408" stroke="#b24a55" stroke-width="0.9"/>
<rect x="662.4" y="392.3" width="2" height="12.1" fill="#a11b2a"/>
<line x1="666.7" y1="400.8" x2="666.7" y2="408.9" stroke="#b24a55" stroke-width="0.9"/>
<rect x="665.7" y="403.8" width="2" height="2.9" fill="#a11b2a"/>
<line x1="669.7" y1="400.8" x2="669.7" y2="413.9" stroke="#b24a55" stroke-width="0.9"/>
<rect x="668.7" y="406.2" width="2" height="6.6" fill="#a11b2a"/>
<line x1="672.6" y1="404.4" x2="672.6" y2="420.5" stroke="#b24a55" stroke-width="0.9"/>
<rect x="671.6" y="412" width="2" height="3.2" fill="#a11b2a"/>
<line x1="675.6" y1="408" x2="675.6" y2="425.4" stroke="#b24a55" stroke-width="0.9"/>
<rect x="674.6" y="413.4" width="2" height="8" fill="#a11b2a"/>
<line x1="678.5" y1="418.7" x2="678.5" y2="438.5" stroke="#b24a55" stroke-width="0.9"/>
<rect x="677.5" y="420.5" width="2" height="15.3" fill="#a11b2a"/>
<line x1="682.2" y1="429" x2="682.2" y2="436.8" stroke="#3c7d46" stroke-width="0.9"/>
<rect x="681.2" y="430.2" width="2" height="6.3" fill="#1f6a2a"/>
<line x1="685.5" y1="424.2" x2="685.5" y2="447.7" stroke="#b24a55" stroke-width="0.9"/>
<rect x="684.5" y="430.5" width="2" height="12.7" fill="#a11b2a"/>
<line x1="688.5" y1="441.7" x2="688.5" y2="492.6" stroke="#b24a55" stroke-width="0.9"/>
<rect x="687.5" y="442.5" width="2" height="29.2" fill="#a11b2a"/>
<line x1="691.2" y1="462.7" x2="691.2" y2="474.6" stroke="#3c7d46" stroke-width="0.9"/>
<rect x="690.2" y="464.2" width="2" height="7.5" fill="#1f6a2a"/>
<line x1="694.2" y1="456.2" x2="694.2" y2="472.4" stroke="#3c7d46" stroke-width="0.9"/>
<rect x="693.2" y="457.4" width="2" height="8.2" fill="#1f6a2a"/>
<line x1="697.2" y1="452.2" x2="697.2" y2="463.7" stroke="#b24a55" stroke-width="0.9"/>
<rect x="696.2" y="458.2" width="2" height="4.9" fill="#a11b2a"/>
<line x1="700.8" y1="456.2" x2="700.8" y2="469.4" stroke="#b24a55" stroke-width="0.9"/>
<rect x="699.8" y="462.2" width="2" height="6.4" fill="#a11b2a"/>
<line x1="703.8" y1="463.4" x2="703.8" y2="475.1" stroke="#b24a55" stroke-width="0.9"/>
<rect x="702.8" y="467.9" width="2" height="6" fill="#a11b2a"/>
<line x1="706.9" y1="433.5" x2="706.9" y2="479.6" stroke="#3c7d46" stroke-width="0.9"/>
<rect x="705.9" y="436.2" width="2" height="37.7" fill="#1f6a2a"/>
<line x1="709.9" y1="435.7" x2="709.9" y2="460.4" stroke="#b24a55" stroke-width="0.9"/>
<rect x="708.9" y="436.2" width="2" height="17.5" fill="#a11b2a"/>
<line x1="712.6" y1="451.1" x2="712.6" y2="458.2" stroke="#3c7d46" stroke-width="0.9"/>
<rect x="711.6" y="452.2" width="2" height="5.2" fill="#1f6a2a"/>
<line x1="715.6" y1="451.1" x2="715.6" y2="462.7" stroke="#b24a55" stroke-width="0.9"/>
<rect x="714.6" y="452.2" width="2" height="9.7" fill="#a11b2a"/>
<line x1="719.2" y1="460.1" x2="719.2" y2="470.9" stroke="#b24a55" stroke-width="0.9"/>
<rect x="718.2" y="461.2" width="2" height="9" fill="#a11b2a"/>
<line x1="722.5" y1="460.1" x2="722.5" y2="473.1" stroke="#b24a55" stroke-width="0.9"/>
<rect x="721.5" y="466.4" width="2" height="3.7" fill="#a11b2a"/>
<line x1="725.4" y1="463.4" x2="725.4" y2="472.7" stroke="#b24a55" stroke-width="0.9"/>
<rect x="724.4" y="466.1" width="2" height="3.3" fill="#a11b2a"/>
<line x1="728.4" y1="461.6" x2="728.4" y2="472.7" stroke="#b24a55" stroke-width="0.9"/>
<rect x="727.4" y="465.7" width="2" height="3" fill="#a11b2a"/>
<line x1="731.3" y1="458.9" x2="731.3" y2="470.1" stroke="#3c7d46" stroke-width="0.9"/>
<rect x="730.3" y="459.7" width="2" height="9.7" fill="#1f6a2a"/>
<line x1="735.1" y1="457.7" x2="735.1" y2="469.4" stroke="#b24a55" stroke-width="0.9"/>
<rect x="734.1" y="458.6" width="2" height="10" fill="#a11b2a"/>
<line x1="737.9" y1="467.6" x2="737.9" y2="476.9" stroke="#b24a55" stroke-width="0.9"/>
<rect x="736.9" y="468.2" width="2" height="4.5" fill="#a11b2a"/>
<line x1="740.9" y1="470.9" x2="740.9" y2="478.4" stroke="#b24a55" stroke-width="0.9"/>
<rect x="739.9" y="471.6" width="2" height="5.5" fill="#a11b2a"/>
<line x1="744.1" y1="474.6" x2="744.1" y2="501.6" stroke="#b24a55" stroke-width="0.9"/>
<rect x="743.1" y="476.6" width="2" height="10.8" fill="#a11b2a"/>
<line x1="746.9" y1="486.6" x2="746.9" y2="495.6" stroke="#b24a55" stroke-width="0.9"/>
<rect x="745.9" y="487.1" width="2" height="5.5" fill="#a11b2a"/>
<line x1="749.9" y1="479.6" x2="749.9" y2="494.1" stroke="#3c7d46" stroke-width="0.9"/>
<rect x="748.9" y="487.1" width="2" height="5.5" fill="#1f6a2a"/>
<line x1="753.4" y1="485.1" x2="753.4" y2="495.6" stroke="#3c7d46" stroke-width="0.9"/>
<rect x="752.4" y="487.4" width="2" height="1.2" fill="#1f6a2a"/>
<line x1="756.6" y1="487.1" x2="756.6" y2="508" stroke="#b24a55" stroke-width="0.9"/>
<rect x="755.6" y="487.4" width="2" height="13.5" fill="#a11b2a"/>
<line x1="759.3" y1="497.1" x2="759.3" y2="504.6" stroke="#3c7d46" stroke-width="0.9"/>
<rect x="758.3" y="497.8" width="2" height="3.7" fill="#1f6a2a"/>
<line x1="762.3" y1="485.9" x2="762.3" y2="502.3" stroke="#3c7d46" stroke-width="0.9"/>
<rect x="761.3" y="490.1" width="2" height="10" fill="#1f6a2a"/>
<line x1="765.6" y1="485.9" x2="765.6" y2="491.6" stroke="#3c7d46" stroke-width="0.9"/>
<rect x="764.6" y="487.1" width="2" height="3" fill="#1f6a2a"/>
</g>
<rect x="39.5" y="79.5" width="1.6" height="1.2" fill="#4a4d57"/><rect x="170.4" y="79.5" width="1.4" height="1.4" fill="#4a4d57"/>
<rect x="8" y="78" width="1184" height="1.8" fill="#52555f"/>
<line x1="1130.5" y1="20" x2="1130.5" y2="641.5" stroke="#4b4e5a" stroke-width="1"/>
<line x1="8" y1="618.5" x2="1192" y2="618.5" stroke="#3b3e48" stroke-width="1"/>
<defs><clipPath id="axc"><rect x="1130.5" y="20" width="61.5" height="621.5"/></clipPath></defs>
<g clip-path="url(#axc)">
<text x="1137.7" y="109.2" font-size="10" fill="#5c5f69" textLength="46.7" lengthAdjust="spacingAndGlyphs" >0.0003000</text>
<text x="1137.7" y="146.6" font-size="10" fill="#5c5f69" textLength="46.7" lengthAdjust="spacingAndGlyphs" >0.0002800</text>
<text x="1137.7" y="184" font-size="10" fill="#5c5f69" textLength="46.7" lengthAdjust="spacingAndGlyphs" >0.0002600</text>
<text x="1137.7" y="221.4" font-size="10" fill="#5c5f69" textLength="46.7" lengthAdjust="spacingAndGlyphs" >0.0002400</text>
<text x="1137.7" y="258.8" font-size="10" fill="#5c5f69" textLength="46.7" lengthAdjust="spacingAndGlyphs" >0.0002200</text>
<text x="1137.7" y="296.2" font-size="10" fill="#5c5f69" textLength="46.7" lengthAdjust="spacingAndGlyphs" >0.0002000</text>
<text x="1137.7" y="333.6" font-size="10" fill="#5c5f69" textLength="46.7" lengthAdjust="spacingAndGlyphs" >0.0001800</text>
<text x="1137.7" y="371" font-size="10" fill="#5c5f69" textLength="46.7" lengthAdjust="spacingAndGlyphs" >0.0001600</text>
<text x="1137.7" y="408.4" font-size="10" fill="#5c5f69" textLength="46.7" lengthAdjust="spacingAndGlyphs" >0.0001400</text>
<text x="1137.7" y="483.2" font-size="10" fill="#5c5f69" textLength="46.7" lengthAdjust="spacingAndGlyphs" >0.0001000</text>
<text x="1137.7" y="520.8" font-size="10" fill="#5c5f69" textLength="46.7" lengthAdjust="spacingAndGlyphs" >0.0000800</text>
<text x="1137.7" y="558" font-size="10" fill="#5c5f69" textLength="46.7" lengthAdjust="spacingAndGlyphs" >0.0000600</text>
<text x="1137.7" y="595.4" font-size="10" fill="#5c5f69" textLength="46.7" lengthAdjust="spacingAndGlyphs" >0.0000400</text>
<text x="1137.7" y="24" font-size="10" fill="#5c5f69" textLength="25.4" lengthAdjust="spacingAndGlyphs" >80.00</text>
<text x="1137.7" y="56.4" font-size="10" fill="#5c5f69" textLength="25.4" lengthAdjust="spacingAndGlyphs" >40.00</text>
</g>
<text x="16" y="633.4" font-size="10" fill="#5c5f69" text-anchor="middle">Jul</text>
<text x="108.8" y="633.4" font-size="10" fill="#5c5f69" text-anchor="middle">Oct</text>
<text x="205" y="633.4" font-size="10" fill="#454852" textLength="23.4" lengthAdjust="spacingAndGlyphs" font-weight="bold" text-anchor="middle">2023</text>
<text x="297.5" y="633.4" font-size="10" fill="#5c5f69" text-anchor="middle">Apr</text>
<text x="394" y="633.4" font-size="10" fill="#5c5f69" text-anchor="middle">Jul</text>
<text x="486.2" y="633.4" font-size="10" fill="#5c5f69" text-anchor="middle">Oct</text>
<text x="582.5" y="633.4" font-size="10" fill="#454852" textLength="23.4" lengthAdjust="spacingAndGlyphs" font-weight="bold" text-anchor="middle">2024</text>
<text x="679" y="633.4" font-size="10" fill="#5c5f69" text-anchor="middle">Apr</text>
<text x="771.7" y="633.4" font-size="10" fill="#5c5f69" text-anchor="middle">Jul</text>
<text x="867.7" y="633.4" font-size="10" fill="#5c5f69" text-anchor="middle">Oct</text>
<text x="960.6" y="633.4" font-size="10" fill="#454852" textLength="23.4" lengthAdjust="spacingAndGlyphs" font-weight="bold" text-anchor="middle">2025</text>
<text x="1053" y="633.4" font-size="10" fill="#5c5f69" text-anchor="middle">Apr</text>
<rect x="1133.2" y="82.4" width="56.2" height="19" rx="3" fill="#131722"/>
<path d="M1130.5 435.3H1187a2 2 0 0 1 2 2v10.9a2 2 0 0 1-2 2H1130.5z" fill="#000"/>
<path d="M1130.5 479.8H1187a2 2 0 0 1 2 2v22.7a2 2 0 0 1-2 2H1130.5z" fill="#4a4e59"/>
<text x="1139.9" y="95.9" font-size="10.4" fill="#fff" textLength="18.4" lengthAdjust="spacingAndGlyphs" >BTC</text>
<text x="1137.7" y="446.9" font-size="10" fill="#fff" textLength="46.7" lengthAdjust="spacingAndGlyphs" font-weight="bold" >0.0001200</text>
<text x="1137.7" y="491.5" font-size="10" fill="#fff" textLength="46.7" lengthAdjust="spacingAndGlyphs" font-weight="bold" >0.0000962</text>
<text x="1137.7" y="503.5" font-size="10" fill="#d5d8e0" textLength="30.5" lengthAdjust="spacingAndGlyphs" font-weight="bold" >1d 15h</text>
<text x="822.3" y="51.3" font-size="10.6" fill="#2a2e39" textLength="134" lengthAdjust="spacingAndGlyphs" font-style="italic" >Potential bullish divergence.</text>
<text x="584.1" y="519.7" font-size="10.6" fill="#2a2e39" textLength="134.4" lengthAdjust="spacingAndGlyphs" font-style="italic" >Potential bullish divergence.</text>
<text x="8" y="14" font-size="9" fill="#eceef2" textLength="276.7" lengthAdjust="spacingAndGlyphs" stroke="#eceef2" stroke-width="0.3">CryptoMichNL published on TradingView.com, Jun 27, 2024 09:51 UTC</text>
<g><circle cx="765.2" cy="608.9" r="7.4" fill="#fdf7fe" stroke="#9630b4" stroke-width="1.1"/><path d="M766.8 604.8l-3.9 4.6h2.4l-2.1 3.7 4.6-5.1h-2.5z" fill="#7a1fb0"/><circle cx="770.7" cy="603.9" r="2.1" fill="#ee3140" stroke="#f3e9f6" stroke-width="0.9"/></g>
<g fill="#fff"><path d="M7.6 651.2h7.2v6.6h-3.6v-3.3H7.6z"/><circle cx="16.4" cy="652.7" r="1.5"/><path d="M18.6 651.2h3.4l-2.9 6.6h-3.5z"/></g>
<text x="25" y="657.8" font-size="9.2" fill="#fff" textLength="52" lengthAdjust="spacingAndGlyphs" font-weight="bold" >TradingView</text>
</svg>
</body></html>
